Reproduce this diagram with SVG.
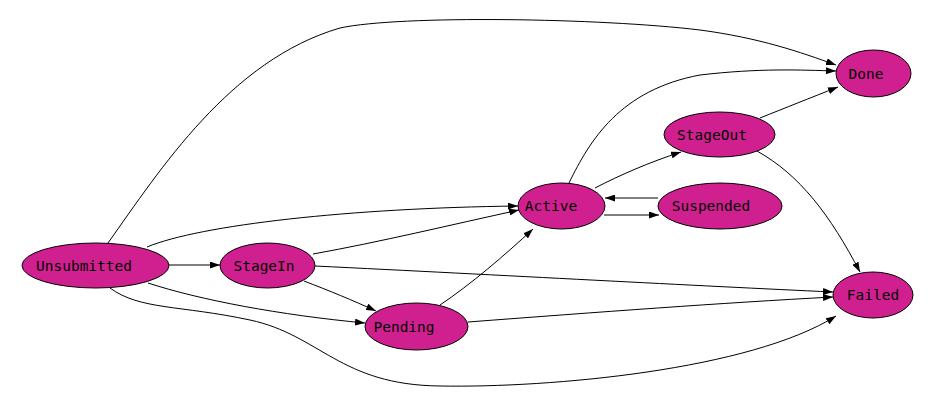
<svg xmlns="http://www.w3.org/2000/svg" width="934" height="411" viewBox="0 0 934 411">
<style>
.n ellipse{fill:#d02090;stroke:#000;stroke-width:1}
.n text{font-family:"DejaVu Sans Mono","Liberation Mono",monospace;font-size:14.5px;fill:#000;text-anchor:middle;dominant-baseline:central}
.e path{fill:none;stroke:#000;stroke-width:1;marker-end:url(#a)}
</style>
<defs>
<marker id="a" markerWidth="10" markerHeight="7" refX="10" refY="3.5" orient="auto" markerUnits="userSpaceOnUse">
<path d="M0,0 L10,3.5 L0,7 Z" fill="#000"/>
</marker>
</defs>
<rect width="934" height="411" fill="#fff"/>
<g class="e" id="connectors">
<path d="M169,265 L220,265"/>
<path d="M108,243 C160,170 230,60 340,28 C400,15 600,18 700,30 C760,38 800,52 836,65"/>
<path d="M147,247 C200,225 350,208 518,206"/>
<path d="M148,283 C200,300 280,315 365,323"/>
<path d="M110,288 C140,310 180,305 250,320 C320,335 340,385 440,386 C550,388 750,370 836,316"/>
<path d="M313,254 C380,242 450,225 519,210"/>
<path d="M304,281 C330,291 352,300 376,311"/>
<path d="M315,266 C500,275 700,286 833,292"/>
<path d="M440,305 C470,285 505,255 533,229"/>
<path d="M468,322 C600,312 720,303 833,297"/>
<path d="M595,188 C620,175 650,162 681,152"/>
<path d="M604,215 L659,215"/>
<path d="M658,198 L605,198"/>
<path d="M569,183 C590,140 620,90 700,75 C760,68 800,70 836,71"/>
<path d="M760,118 C785,108 810,98 838,87"/>
<path d="M757,151 C800,175 830,215 860,272"/>
</g>
<g class="n" id="Unsubmitted"><ellipse cx="95.5" cy="265.5" rx="73.5" ry="22.5"/><text x="84" y="265.5">Unsubmitted</text></g>
<g class="n" id="StageIn"><ellipse cx="267.5" cy="265.5" rx="47.5" ry="22.5"/><text x="264" y="265.5">StageIn</text></g>
<g class="n" id="Pending"><ellipse cx="416.5" cy="326.5" rx="51.5" ry="23.5"/><text x="404" y="326.5">Pending</text></g>
<g class="n" id="Active"><ellipse cx="561.5" cy="206" rx="43.5" ry="23"/><text x="551" y="206">Active</text></g>
<g class="n" id="StageOut"><ellipse cx="719.5" cy="134.5" rx="55.5" ry="22.5"/><text x="712" y="134.5">StageOut</text></g>
<g class="n" id="Suspended"><ellipse cx="720" cy="206" rx="62" ry="23"/><text x="711" y="206">Suspended</text></g>
<g class="n" id="Done"><ellipse cx="873.5" cy="73.5" rx="37.5" ry="23.5"/><text x="866" y="73.5">Done</text></g>
<g class="n" id="Failed"><ellipse cx="873" cy="295" rx="40" ry="23"/><text x="873" y="295">Failed</text></g>
</svg>
